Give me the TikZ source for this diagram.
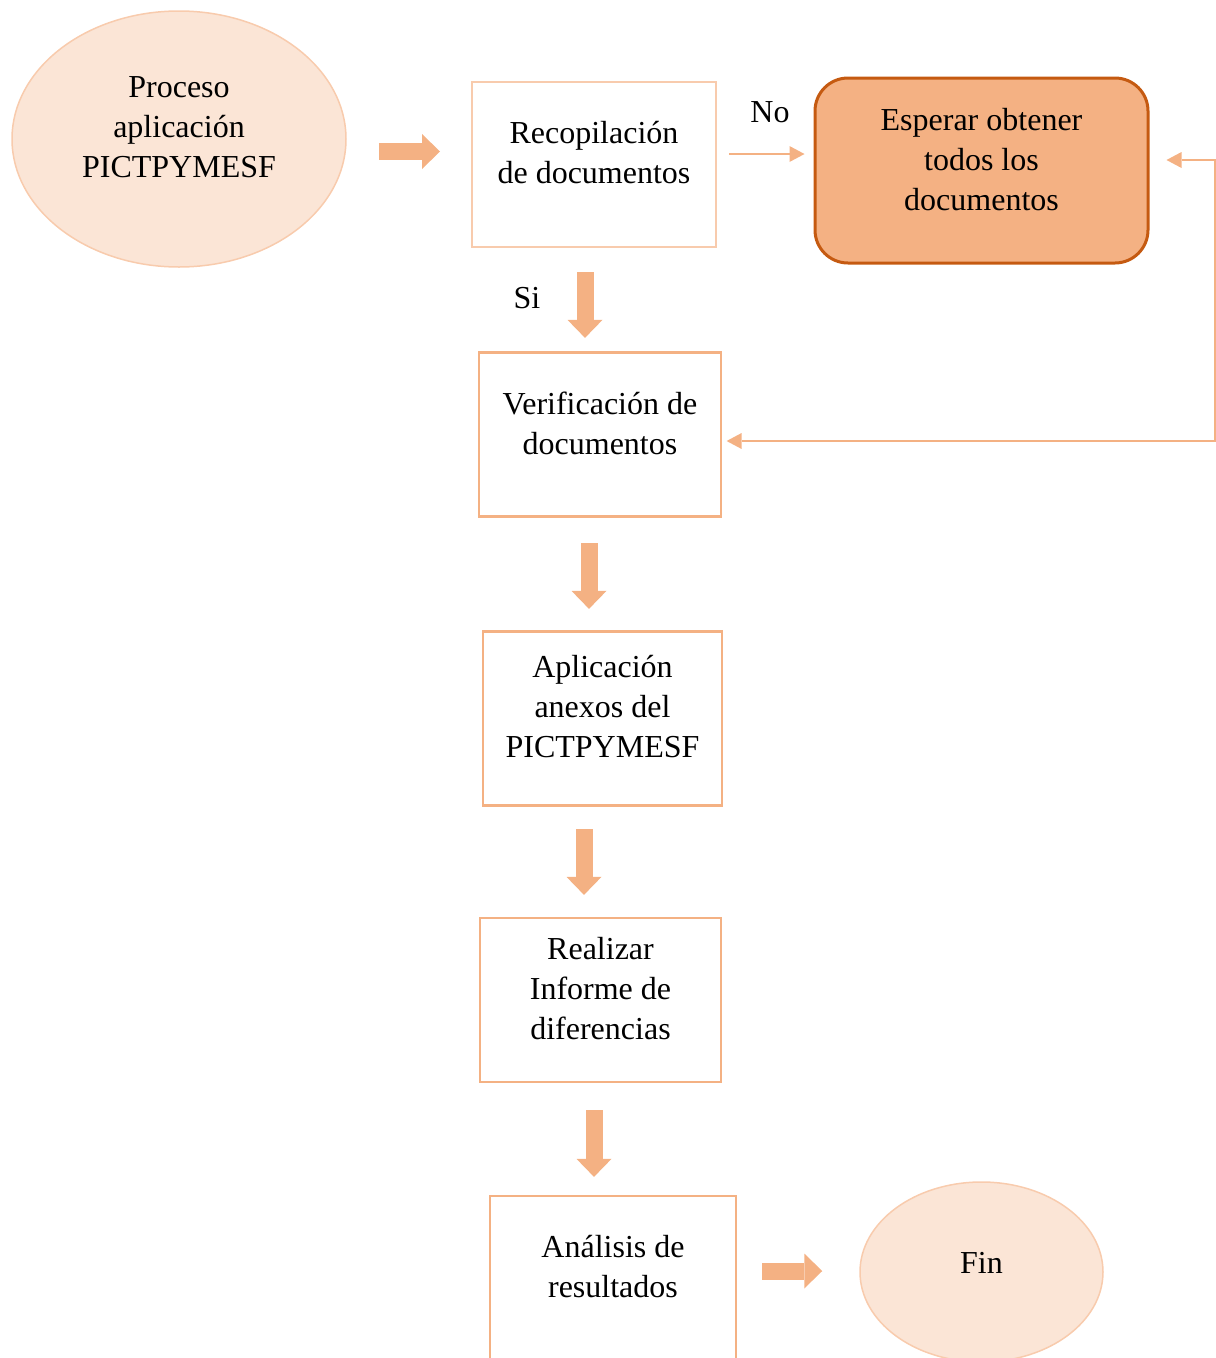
\documentclass[tikz,border=0pt]{standalone}
\usepackage{fontspec}
\setmainfont{Liberation Serif}
\usetikzlibrary{arrows.meta,shapes.geometric}

\definecolor{peach}{HTML}{F4B183}
\definecolor{peachlight}{HTML}{F8CBAD}
\definecolor{cream}{HTML}{FBE5D6}
\definecolor{rust}{HTML}{C55A11}

% centred lines whose reference point is the baseline of the first line
\newcommand{\flowlines}[1]{{\renewcommand{\arraystretch}{1}\begin{tabular}[t]{@{}c@{}}#1\end{tabular}}}

\tikzset{
  stepbox/.style={rectangle, draw=peach, line width=2.25pt, inner sep=0pt},
  oval/.style={ellipse, draw=peachlight, fill=cream, line width=1.5pt, inner sep=0pt},
  waitbox/.style={rectangle, rounded corners=33pt, draw=rust, fill=peach, line width=3pt, inner sep=0pt},
  txt/.style={anchor=base, inner sep=0pt, font=\fontsize{32}{40}\selectfont},
  blockarrow/.style={draw=peach, line width=17pt, -{Triangle[length=18pt,width=35pt,line width=0pt]}},
  thinarrow/.style={draw=peach, line width=2pt, -{Triangle[length=15pt,width=16pt,line width=0pt]}},
  looparrow/.style={draw=peach, line width=2pt,
    {Triangle[length=15pt,width=16pt,line width=0pt]}-{Triangle[length=15pt,width=16pt,line width=0pt]}}
}

\begin{document}
\begin{tikzpicture}[x=1pt,y=-1pt]
  \useasboundingbox (0,0) rectangle (1216,1358);
  \clip (0,0) rectangle (1216,1358);

  % shapes
  \node[oval, minimum width=334pt, minimum height=256pt] (start) at (179,139) {};
  \node[stepbox, draw=peachlight, line width=2pt, minimum width=244pt, minimum height=165pt] (recop) at (594,164.5) {};
  \node[waitbox, minimum width=333pt, minimum height=185pt] (wait) at (981.5,170.5) {};
  \node[stepbox, minimum width=242pt, minimum height=164pt] (verif) at (600,434.5) {};
  \node[stepbox, minimum width=239pt, minimum height=174pt] (anexos) at (602.5,718.5) {};
  \node[stepbox, minimum width=241pt, minimum height=164pt] (informe) at (600.5,1000) {};
  \node[stepbox, minimum width=246pt, minimum height=165pt] (analisis) at (613,1278.5) {};
  \node[oval, minimum width=243pt, minimum height=180pt] (fin) at (981.5,1272) {};

  % texts
  \node[txt] (startT) at (179,97) {\flowlines{Proceso\\aplicación\\PICTPYMESF}};
  \node[txt] (recopT) at (594,143) {\flowlines{Recopilación\\de documentos}};
  \node[txt] (waitT) at (981.5,130) {\flowlines{Esperar obtener\\todos los\\documentos}};
  \node[txt] (verifT) at (600,414) {\flowlines{Verificación de\\documentos}};
  \node[txt] (anexosT) at (602.5,677) {\flowlines{Aplicación\\anexos del\\PICTPYMESF}};
  \node[txt] (informeT) at (600.5,959) {\flowlines{Realizar\\Informe de\\diferencias}};
  \node[txt] (analisisT) at (613,1257) {\flowlines{Análisis de\\resultados}};
  \node[txt] (finT) at (981.5,1273) {Fin};
  \node[txt] (noT) at (770,122) {No};
  \node[txt] (siT) at (527,308) {Si};

  % main flow
  \draw[blockarrow] ([xshift=32pt,yshift=-12.5pt]start.east) -- ([xshift=-31pt,yshift=13pt]recop.west);
  \draw[blockarrow] ([xshift=-9pt,yshift=-24pt]recop.south) -- ([xshift=-15pt,yshift=13.5pt]verif.north);
  \draw[blockarrow] ([xshift=-11pt,yshift=-25.5pt]verif.south) -- ([xshift=-13.5pt,yshift=21.5pt]anexos.north);
  \draw[blockarrow] ([xshift=-18.5pt,yshift=-22.5pt]anexos.south) -- ([xshift=-16.5pt,yshift=22pt]informe.north);
  \draw[blockarrow] ([xshift=-6.5pt,yshift=-27pt]informe.south) -- ([xshift=-19pt,yshift=18pt]analisis.north);
  \draw[blockarrow] ([xshift=25pt,yshift=7.5pt]analisis.east) -- ([xshift=-37pt,yshift=1pt]fin.west);

  % "No" branch and return loop
  \draw[thinarrow] ([xshift=12pt,yshift=10.5pt]recop.east) -- ([xshift=-9pt,yshift=16.5pt]wait.west);
  \coordinate (loopTop) at ([xshift=17pt,yshift=10.5pt]wait.east);
  \coordinate (loopEnd) at ([xshift=4.5pt,yshift=-6.5pt]verif.east);
  \draw[looparrow] (loopTop) -- ++(48,0) |- (loopEnd);
\end{tikzpicture}
\end{document}
